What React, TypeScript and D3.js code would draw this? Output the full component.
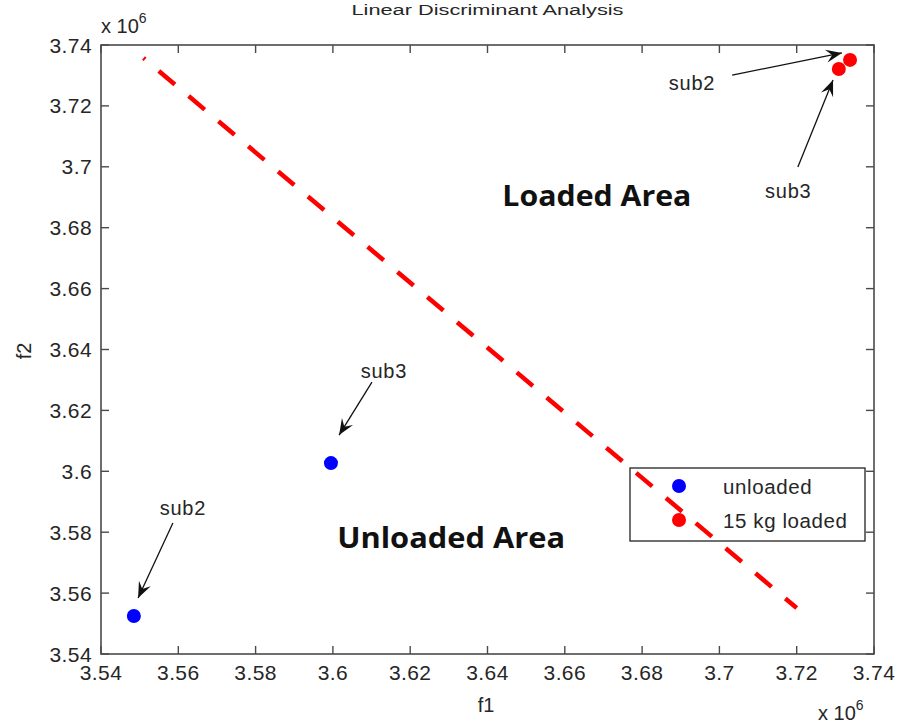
import React from "react";
import * as d3 from "d3";

const W = 899;
const H = 726;

// Data (in units of 10^6)
const unloadedF1 = [3.5485, 3.5995];
const unloadedF2 = [3.5525, 3.6027];
const loadedF1 = [3.7338, 3.7309];
const loadedF2 = [3.7351, 3.7321];
const boundaryF1 = [3.551, 3.72];
const boundaryF2 = [3.7357, 3.5551];

const xTickValues = [3.54, 3.56, 3.58, 3.6, 3.62, 3.64, 3.66, 3.68, 3.7, 3.72, 3.74];
const yTickValues = [3.54, 3.56, 3.58, 3.6, 3.62, 3.64, 3.66, 3.68, 3.7, 3.72, 3.74];
const xTickLabels = ["3.54", "3.56", "3.58", "3.6", "3.62", "3.64", "3.66", "3.68", "3.7", "3.72", "3.74"];
const yTickLabels = ["3.54", "3.56", "3.58", "3.6", "3.62", "3.64", "3.66", "3.68", "3.7", "3.72", "3.74"];

// annotation arrows: label, text pos, tail, head (data coords)
const annLabels = ["sub2", "sub3", "sub2", "sub3"];
const annTextF1 = [3.5612, 3.6132, 3.6929, 3.7178];
const annTextF2 = [3.5857, 3.6306, 3.7252, 3.6898];
const annTailF1 = [3.5586, 3.6101, 3.7033, 3.7203];
const annTailF2 = [3.583, 3.6293, 3.7301, 3.6999];
const annHeadF1 = [3.5496, 3.6016, 3.7317, 3.7294];
const annHeadF2 = [3.5584, 3.6119, 3.7374, 3.7285];

const areaLabels = ["Loaded Area", "Unloaded Area"];
const areaF1 = [3.6683, 3.6306];
const areaF2 = [3.6871, 3.5748];
const areaLen = [189, 228];

const legendLabels = ["unloaded", "15 kg loaded"];
const legendColors = ["#0000ff", "#ff0000"];

const M = { left: 101, top: 45, right: 874, bottom: 654 };

export default function App() {
  const x = d3.scaleLinear().domain([3.54, 3.74]).range([M.left, M.right]);
  const y = d3.scaleLinear().domain([3.54, 3.74]).range([M.bottom, M.top]);
  const axisColor = "#4a4a4a";
  const textColor = "#262626";
  const font = "'Liberation Sans', Arial, sans-serif";

  const line = d3
    .line<number>()
    .x((_, i) => x(boundaryF1[i]))
    .y((_, i) => y(boundaryF2[i]));

  const arrowHead = (hx: number, hy: number, tx: number, ty: number) => {
    const ang = Math.atan2(hy - ty, hx - tx);
    const L = 16;
    const Wd = 6.5;
    const pts = [
      [0, 0],
      [-L, -Wd],
      [-L * 0.62, 0],
      [-L, Wd],
    ].map(([a, b]) => [
      hx + a * Math.cos(ang) - b * Math.sin(ang),
      hy + a * Math.sin(ang) + b * Math.cos(ang),
    ]);
    return "M" + pts.map((p) => p.join(",")).join("L") + "Z";
  };

  const tickLen = 8;

  return (
    <svg width={W} height={H} style={{ display: "block", position: "absolute", left: 0, top: 0 }}>
      <rect x={0} y={0} width={W} height={H} fill="#ffffff" />
      {/* title */}
      <text
        x={(M.left + M.right) / 2}
        y={15}
        textAnchor="middle"
        fontFamily={font}
        fontSize={14}
        fill={textColor}
        textLength={272}
        lengthAdjust="spacingAndGlyphs"
      >
        Linear Discriminant Analysis
      </text>

      {/* legend box (line passes over it) */}
      <rect x={630} y={468} width={235} height={73} fill="#ffffff" stroke="#222" strokeWidth={1.3} />

      {/* boundary line */}
      <path
        d={line(boundaryF1) || ""}
        fill="none"
        stroke="#ff0000"
        strokeWidth={4.5}
        strokeDasharray="21 18"
        strokeDashoffset={19}
      />

      {/* legend entries */}
      {legendLabels.map((lab, i) => (
        <g key={"lg" + i}>
          <circle cx={679} cy={486 + i * 34} r={7} fill={legendColors[i]} />
          <text x={723} y={494 + i * 34} fontFamily={font} fontSize={20.5} letterSpacing={0.6} fill={textColor}>
            {lab}
          </text>
        </g>
      ))}

      {/* points */}
      {unloadedF1.map((v, i) => (
        <circle key={"u" + i} cx={x(v)} cy={y(unloadedF2[i])} r={7} fill="#0000ff" />
      ))}
      {loadedF1.map((v, i) => (
        <circle key={"l" + i} cx={x(v)} cy={y(loadedF2[i])} r={7} fill="#ff0000" />
      ))}

      {/* annotations */}
      {annLabels.map((lab, i) => {
        const tx = x(annTailF1[i]);
        const ty = y(annTailF2[i]);
        const hx = x(annHeadF1[i]);
        const hy = y(annHeadF2[i]);
        return (
          <g key={"a" + i}>
            <line x1={tx} y1={ty} x2={hx} y2={hy} stroke="#111" strokeWidth={1.3} />
            <path d={arrowHead(hx, hy, tx, ty)} fill="#111" />
            <text
              x={x(annTextF1[i])}
              y={y(annTextF2[i])}
              textAnchor="middle"
              fontFamily={font}
              fontSize={20}
              letterSpacing={0.8}
              fill={textColor}
            >
              {lab}
            </text>
          </g>
        );
      })}

      {/* area labels */}
      {areaLabels.map((lab, i) => (
        <text
          key={"ar" + i}
          x={x(areaF1[i])}
          y={y(areaF2[i])}
          textAnchor="middle"
          fontFamily="'Open Sans', 'Liberation Sans', sans-serif"
          fontWeight="bold"
          fontSize={29}
          fill="#111"
          textLength={areaLen[i]}
          lengthAdjust="spacingAndGlyphs"
        >
          {lab}
        </text>
      ))}

      {/* axes box */}
      <rect
        x={M.left}
        y={M.top}
        width={M.right - M.left}
        height={M.bottom - M.top}
        fill="none"
        stroke={axisColor}
        strokeWidth={1.6}
      />
      {xTickValues.map((v, i) => (
        <g key={"xt" + i}>
          <line x1={x(v)} x2={x(v)} y1={M.bottom} y2={M.bottom - tickLen} stroke={axisColor} strokeWidth={1.4} />
          <line x1={x(v)} x2={x(v)} y1={M.top} y2={M.top + tickLen} stroke={axisColor} strokeWidth={1.4} />
          <text
            x={x(v)}
            y={680}
            textAnchor="middle"
            fontFamily={font}
            fontSize={21}
            letterSpacing={0.4}
            fill={textColor}
          >
            {xTickLabels[i]}
          </text>
        </g>
      ))}
      {yTickValues.map((v, i) => (
        <g key={"yt" + i}>
          <line x1={M.left} x2={M.left + tickLen} y1={y(v)} y2={y(v)} stroke={axisColor} strokeWidth={1.4} />
          <line x1={M.right} x2={M.right - tickLen} y1={y(v)} y2={y(v)} stroke={axisColor} strokeWidth={1.4} />
          <text
            x={92}
            y={y(v) + 7.5}
            textAnchor="end"
            fontFamily={font}
            fontSize={21}
            letterSpacing={0.4}
            fill={textColor}
          >
            {yTickLabels[i]}
          </text>
        </g>
      ))}

      {/* exponent labels */}
      <text x={101} y={33} fontFamily={font} fontSize={20} fill={textColor}>
        x 10
        <tspan dy={-10} fontSize={14}>6</tspan>
      </text>
      <text x={818} y={720} fontFamily={font} fontSize={20} fill={textColor}>
        x 10
        <tspan dy={-10} fontSize={14}>6</tspan>
      </text>

      {/* axis labels */}
      <text x={486} y={712} textAnchor="middle" fontFamily={font} fontSize={20} fill={textColor}>
        f1
      </text>
      <text
        transform="translate(31,351) rotate(-90)"
        textAnchor="middle"
        fontFamily={font}
        fontSize={20}
        fill={textColor}
      >
        f2
      </text>
    </svg>
  );
}
